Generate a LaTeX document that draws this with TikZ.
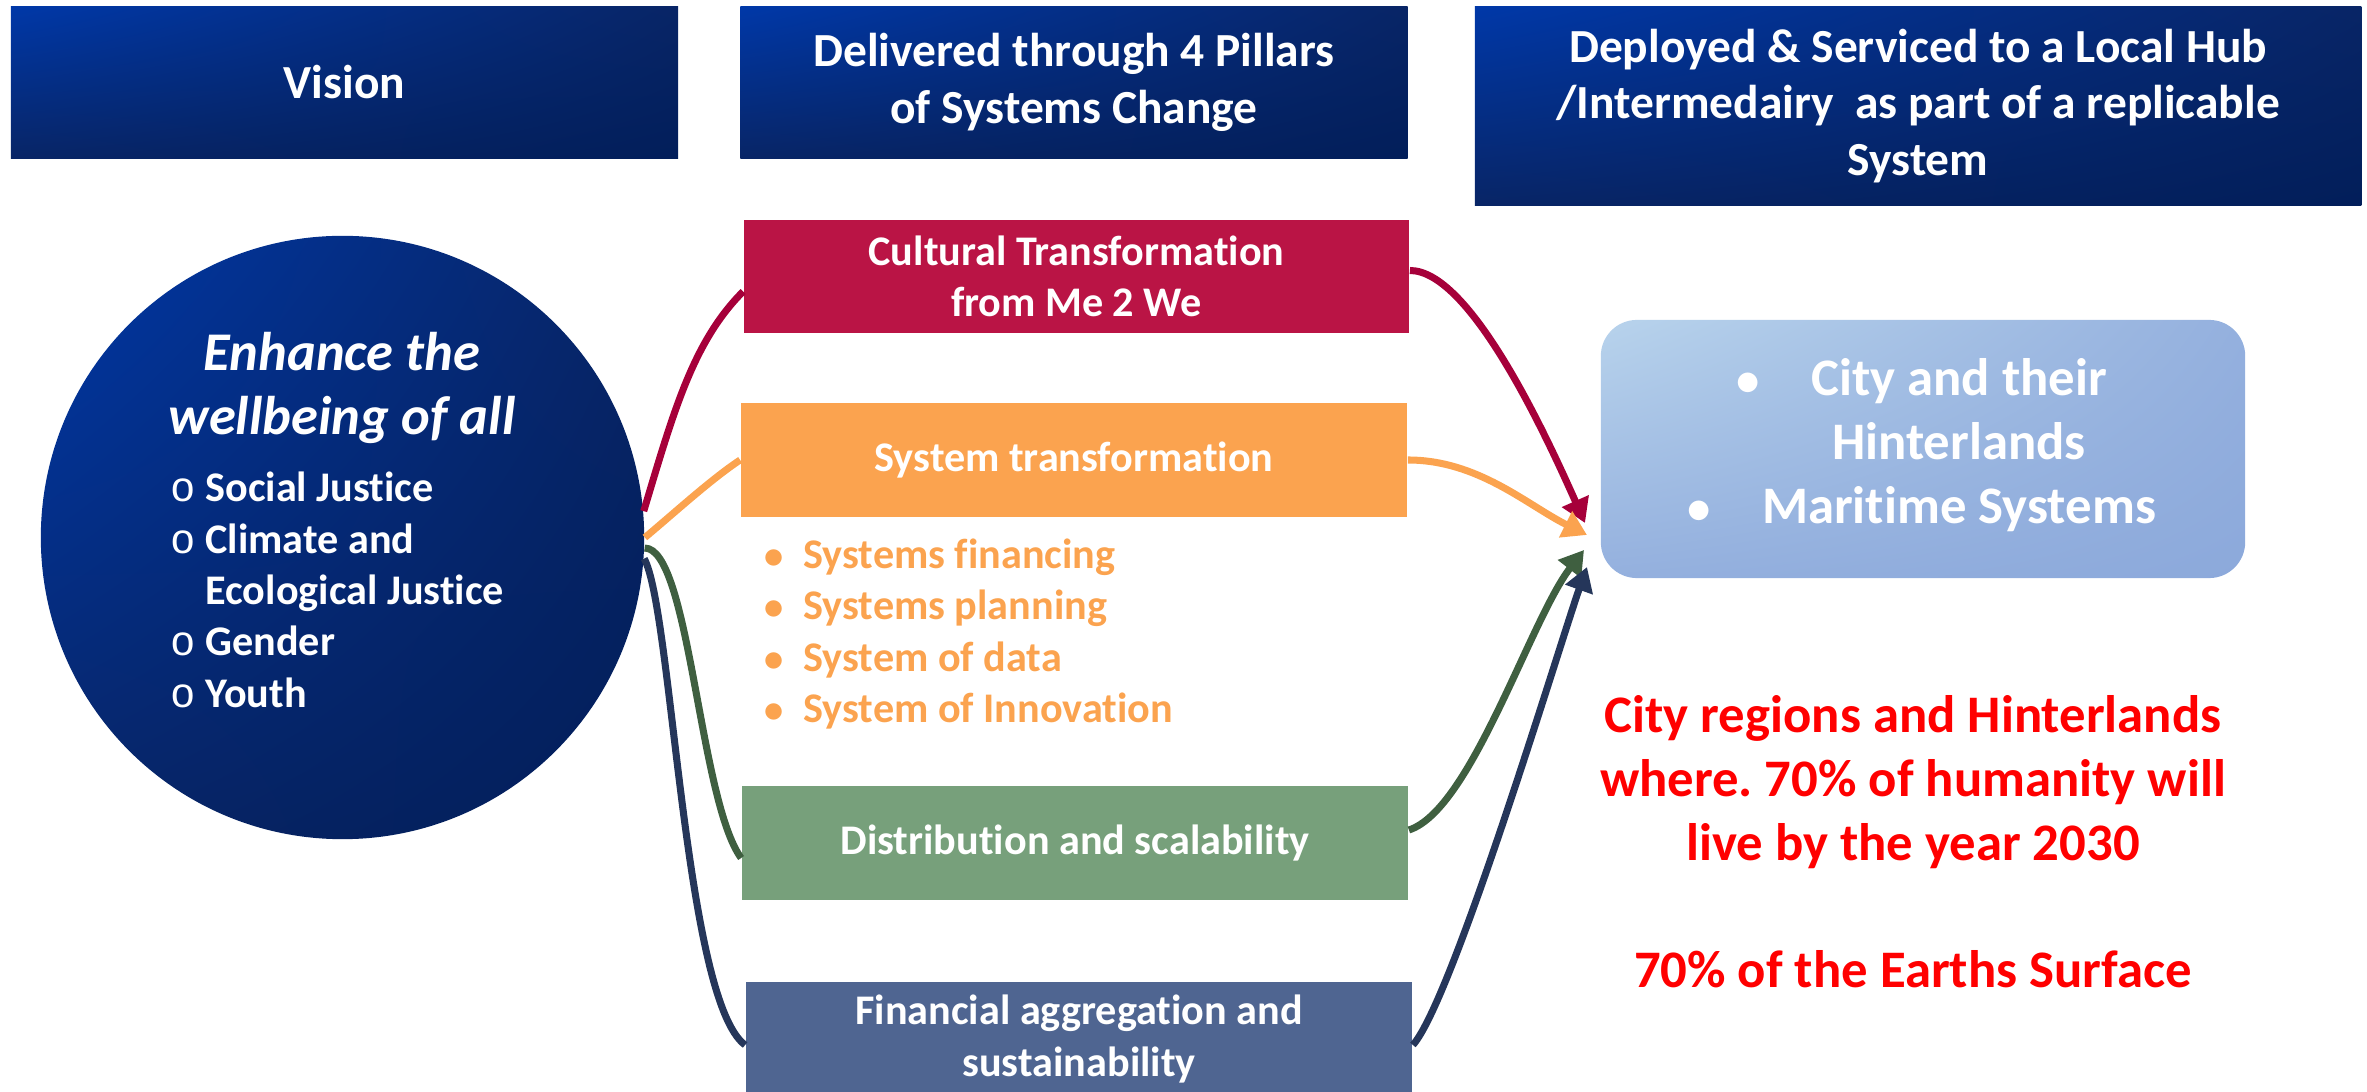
\documentclass[tikz,border=0pt]{standalone}
\usepackage{fontspec}
\setmainfont{Carlito}[Ligatures=NoCommon,RawFeature=-calt]
\newfontfamily\bulletfont{Liberation Mono}
\usetikzlibrary{arrows.meta,shadings}
\frenchspacing

\definecolor{hdrlight}{HTML}{0038A8}
\definecolor{hdrmid}{HTML}{082566}
\definecolor{hdrdark}{HTML}{021E5A}
\definecolor{cultfill}{HTML}{BA1445}
\definecolor{sysfill}{HTML}{FBA34F}
\definecolor{distfill}{HTML}{77A07B}
\definecolor{finfill}{HTML}{4F6591}
\definecolor{cultline}{HTML}{A6003A}
\definecolor{distline}{HTML}{3F5F40}
\definecolor{finline}{HTML}{25365A}
\definecolor{hublight}{HTML}{B8D3EC}
\definecolor{hubmid}{HTML}{94B0DE}
\definecolor{hubdark}{HTML}{8CA9DB}

\tikzset{
  header/.style={shade,upper left=hdrlight,upper right=hdrmid,lower left=hdrmid,
    lower right=hdrdark,text=white,align=center,inner sep=0pt,
    minimum width=6.67cm,minimum height=1.51cm,
    font=\bfseries\fontsize{13.5}{16}\selectfont},
  pillar/.style={text=white,align=center,inner sep=0pt,
    minimum width=6.66cm,minimum height=1.14cm,
    font=\bfseries\fontsize{12}{14.6}\selectfont},
  link/.style={line width=2pt,-{Triangle[length=0.24cm,width=0.28cm]}},
  feed/.style={line width=2pt}
}

\begin{document}
\begin{tikzpicture}[x=0.01cm,y=0.01cm]
\useasboundingbox (0,0) rectangle (2367,-1092);

% column headers
\node[header] (vision) at (344.5,-82.5) {Vision};
\node[header] (pillars) at (1074,-82.5) {Delivered through 4 Pillars\\of Systems Change};
\node[header,minimum width=8.86cm,minimum height=1.98cm] (deploy) at (1918,-106)
  {Deployed \& Serviced to a Local Hub\\/Intermedairy\ \ as part of a replicable\\System};

% vision circle
\node[circle,shade,upper left=hdrlight,upper right=hdrmid,lower left=hdrmid,
  lower right=hdrdark,minimum size=6.03cm,inner sep=0pt] (vis) at (342.5,-537.5) {};
\node[text=white,align=center,font=\bfseries\itshape\fontsize{15.5}{18}\selectfont]
  (vistitle) at (342,-388) {Enhance the\\wellbeing of all};
\node[anchor=west,text=white,align=left,font=\bfseries\fontsize{12}{14.6}\selectfont]
  (vislist) at (158,-590) {\makebox[0.35cm][l]{\mdseries\bulletfont o}Social Justice\\
  \makebox[0.35cm][l]{\mdseries\bulletfont o}Climate and\\
  \hspace*{0.35cm}Ecological Justice\\
  \makebox[0.35cm][l]{\mdseries\bulletfont o}Gender\\
  \makebox[0.35cm][l]{\mdseries\bulletfont o}Youth};

% the 4 pillars
\node[pillar,fill=cultfill,minimum width=6.65cm,minimum height=1.13cm] (cult) at (1076.5,-276.5)
  {Cultural Transformation\\from Me 2 We};
\node[pillar,fill=sysfill] (sys) at (1074,-460) {System transformation};
\node[anchor=west,text=sysfill,align=left,font=\bfseries\fontsize{12}{14.6}\selectfont]
  (sysitems) at (751,-634) {\makebox[0.4cm][l]{$\bullet$}Systems financing\\
  \makebox[0.4cm][l]{$\bullet$}Systems planning\\
  \makebox[0.4cm][l]{$\bullet$}System of data\\
  \makebox[0.4cm][l]{$\bullet$}System of Innovation};
\node[pillar,fill=distfill] (dist) at (1075,-843) {Distribution and scalability};
\node[pillar,fill=finfill] (fin) at (1079,-1039) {Financial aggregation and\\sustainability};

% local hub
\node[shade,upper left=hublight,upper right=hubmid,lower left=hubmid,lower right=hubdark,
  rounded corners=0.36cm,minimum width=6.44cm,minimum height=2.58cm,inner sep=0pt] (hub) at (1923,-449) {};
\node[text=white,align=center,font=\bfseries\fontsize{15}{18.2}\selectfont] (hubtext) at (1959,-445)
  {\llap{$\bullet$\hspace{0.5cm}}City and their\\Hinterlands\\\llap{$\bullet$\hspace{0.5cm}}Maritime Systems};

\node[text=red,align=center,font=\bfseries\fontsize{15}{18.1}\selectfont] (note) at (1913,-842)
  {City regions and Hinterlands\\where. 70\% of humanity will\\live by the year 2030\\[18.1pt]
   70\% of the Earths Surface};

% arrow ends at the hub
\coordinate (tipcult) at (1585,-523);
\coordinate (tipsys) at (1587,-535);
\coordinate (tipdist) at (1584,-550);
\coordinate (tipfin) at (1587,-567);

% vision to pillars
\draw[feed,cultline] (vis.5) .. controls +(30,100) and +(-50,-50) .. ([yshift=-0.15cm]cult.west);
\draw[feed,sysfill] (vis.0) .. controls +(30,25) and +(-30,-20) .. (sys.west);
\draw[feed,distline] (vis.-2) .. controls +(45,0) and +(-42,58) .. ([yshift=-0.15cm]dist.west);
\draw[feed,finline] (vis.-4.3) .. controls +(28,-50) and +(-61,45) .. ([yshift=-0.06cm]fin.west);

% pillars to hub
\draw[link,cultline] ([yshift=0.06cm]cult.east) .. controls +(60,0) and +(-40,90) .. (tipcult);
\draw[link,sysfill] (sys.east) .. controls +(70,0) and +(-60,30) .. (tipsys);
\draw[link,distline] ([yshift=0.13cm]dist.east) .. controls +(62,20) and +(-54,-70) .. (tipdist);
\draw[link,finline] ([yshift=-0.06cm]fin.east) .. controls +(40,45) and +(-25,-70) .. (tipfin);
\end{tikzpicture}
\end{document}
